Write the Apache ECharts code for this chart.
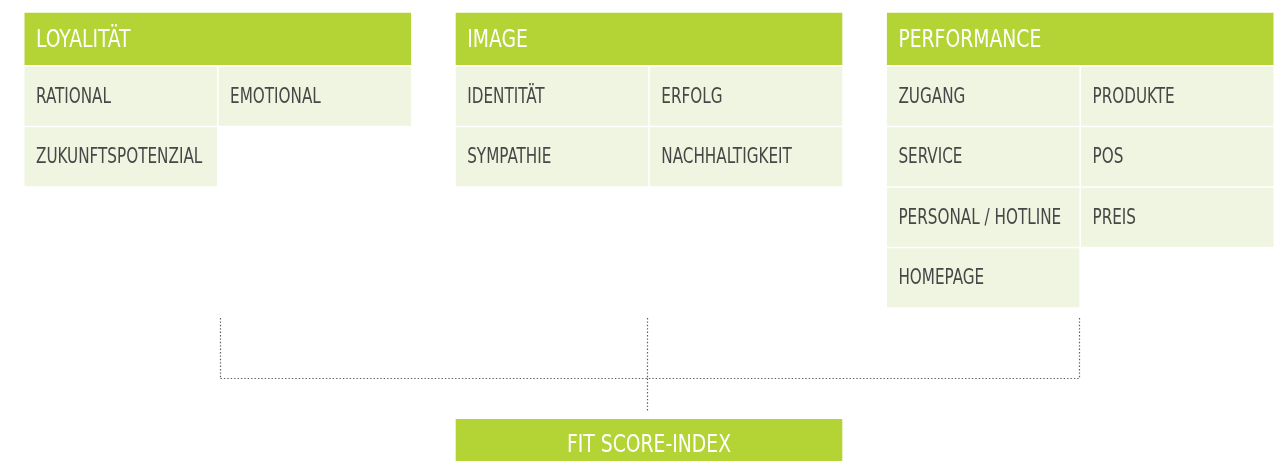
<!DOCTYPE html>
<html><head><meta charset="utf-8">
<script src="https://cdn.jsdelivr.net/npm/echarts@6/dist/echarts.min.js"></script>
<style>html,body{margin:0;padding:0;background:#fff}#c{width:1279px;height:461px}</style>
</head><body><div id="c"></div>
<script>
// ---------- data ----------
const groupTitles = ['LOYALITÄT', 'IMAGE', 'PERFORMANCE'];
const loyalitaetItems = ['RATIONAL', 'EMOTIONAL', 'ZUKUNFTSPOTENZIAL'];
const imageItems = ['IDENTITÄT', 'ERFOLG', 'SYMPATHIE', 'NACHHALTIGKEIT'];
const performanceItems = ['ZUGANG', 'PRODUKTE', 'SERVICE', 'POS', 'PERSONAL / HOTLINE', 'PREIS', 'HOMEPAGE'];
const indexTitle = 'FIT SCORE-INDEX';

// ---------- layout & style (axis units = px) ----------
const LAY = {
  left0: 24.5, groupPitch: 431.2, groupW: 386.6,
  headTop: 12.7, headH: 52.3,
  rowTop0: 66.7, rowPitch: 60.5, rowH: 59,
  colGap: 1.6, pad: 11.5,
  connOffset: [195.5, 191, 191.6],
  connTop: 318, connY: 378, dropBottom: 412,
  indexTop: 419, indexH: 52
};
const STY = {
  green: '#b4d334', light: '#eff5e0', text: '#474747', dot: '#5e5e5e',
  font: "'DejaVu Sans Condensed', 'DejaVu Sans', sans-serif",
  headSize: 25, cellSize: 20.5,
  // condensed look: horizontal squeeze calibrated on sample widths (px)
  cellSample: ['RATIONAL', 75], headSample: ['FIT SCORE-INDEX', 164]
};
const colW = (LAY.groupW - LAY.colGap) / 2;
const groupItems = [loyalitaetItems, imageItems, performanceItems];

function measure(txt, size) {
  const cv = document.createElement('canvas').getContext('2d');
  cv.font = size + 'px ' + STY.font;
  return cv.measureText(txt).width;
}
const cellScale = STY.cellSample[1] / measure(STY.cellSample[0], STY.cellSize);
const headScale = STY.headSample[1] / measure(STY.headSample[0], STY.headSize);

const cellData = [];
groupItems.forEach((items, g) => items.forEach((label, i) => {
  cellData.push({ value: [g, i % 2, Math.floor(i / 2)], label });
}));

function groupLeft(g) { return LAY.left0 + g * LAY.groupPitch; }
function connX(g) { return groupLeft(g) + LAY.connOffset[g]; }

function textEl(x, y, txt, size, color, scale, align) {
  return {
    type: 'text', x: x, y: y, scaleX: scale,
    style: { text: txt, x: 0, y: 0, fill: color, fontSize: size, fontFamily: STY.font,
             align: align || 'left', verticalAlign: 'middle' }
  };
}
const dotStyle = { stroke: STY.dot, lineWidth: 1.2, lineDash: [1.4, 2] };

const chart = echarts.init(document.getElementById('c'), null, { renderer: 'canvas' });
chart.setOption({
  animation: false,
  backgroundColor: '#ffffff',
  grid: { left: 0, right: 0, top: 0, bottom: 0, containLabel: false },
  xAxis: { type: 'value', min: 0, max: 1279, show: false },
  yAxis: { type: 'value', min: 0, max: 461, inverse: true, show: false },
  series: [
    { // group headers
      type: 'custom', clip: false,
      data: groupTitles.map((t, g) => ({ value: [g], name: t })),
      renderItem(params, api) {
        const g = api.value(0);
        const x0 = groupLeft(g);
        const p0 = api.coord([x0, LAY.headTop]);
        const p1 = api.coord([x0 + LAY.groupW, LAY.headTop + LAY.headH]);
        return { type: 'group', children: [
          { type: 'rect', shape: { x: p0[0], y: p0[1], width: p1[0] - p0[0], height: p1[1] - p0[1] },
            style: { fill: STY.green } },
          textEl(p0[0] + LAY.pad, (p0[1] + p1[1]) / 2 + 1.5, groupTitles[g], STY.headSize, '#ffffff', headScale)
        ]};
      }
    },
    { // cells
      type: 'custom', clip: false,
      data: cellData.map(d => ({ value: d.value, name: d.label })),
      renderItem(params, api) {
        const g = api.value(0), c = api.value(1), r = api.value(2);
        const x0 = groupLeft(g) + c * (colW + LAY.colGap);
        const y0 = LAY.rowTop0 + r * LAY.rowPitch;
        const p0 = api.coord([x0, y0]);
        const p1 = api.coord([x0 + colW, y0 + LAY.rowH]);
        return { type: 'group', children: [
          { type: 'rect', shape: { x: p0[0], y: p0[1], width: p1[0] - p0[0], height: p1[1] - p0[1] },
            style: { fill: STY.light } },
          textEl(p0[0] + LAY.pad, (p0[1] + p1[1]) / 2 + 1, cellData[params.dataIndex].label, STY.cellSize, STY.text, cellScale)
        ]};
      }
    },
    { // connectors from each group
      type: 'custom', clip: false,
      data: groupTitles.map((t, g) => ({ value: [g] })),
      renderItem(params, api) {
        const g = api.value(0);
        const a = api.coord([connX(g), LAY.connTop]);
        const b = api.coord([connX(g), LAY.connY]);
        return { type: 'line', shape: { x1: Math.round(a[0]) + 0.5, y1: a[1], x2: Math.round(b[0]) + 0.5, y2: b[1] },
                 style: dotStyle };
      }
    },
    { // index box with bus line
      type: 'custom', clip: false,
      data: [{ value: [1], name: indexTitle }],
      renderItem(params, api) {
        const g = api.value(0);
        const hy = Math.round(api.coord([0, LAY.connY])[1]) + 0.5;
        const xa = Math.round(api.coord([connX(0), 0])[0]) + 0.5;
        const xb = Math.round(api.coord([connX(2), 0])[0]) + 0.5;
        const xm = Math.round(api.coord([connX(g), 0])[0]) + 0.5;
        const yd = api.coord([0, LAY.dropBottom])[1];
        const x0 = groupLeft(g);
        const p0 = api.coord([x0, LAY.indexTop]);
        const p1 = api.coord([x0 + LAY.groupW, LAY.indexTop + LAY.indexH]);
        return { type: 'group', children: [
          { type: 'line', shape: { x1: xa, y1: hy, x2: xb, y2: hy }, style: dotStyle },
          { type: 'line', shape: { x1: xm, y1: hy, x2: xm, y2: yd }, style: dotStyle },
          { type: 'rect', shape: { x: p0[0], y: p0[1], width: p1[0] - p0[0], height: p1[1] - p0[1] },
            style: { fill: STY.green } },
          textEl((p0[0] + p1[0]) / 2, (p0[1] + p1[1]) / 2, indexTitle, STY.headSize, '#ffffff', headScale, 'center')
        ]};
      }
    }
  ]
});
</script></body></html>
